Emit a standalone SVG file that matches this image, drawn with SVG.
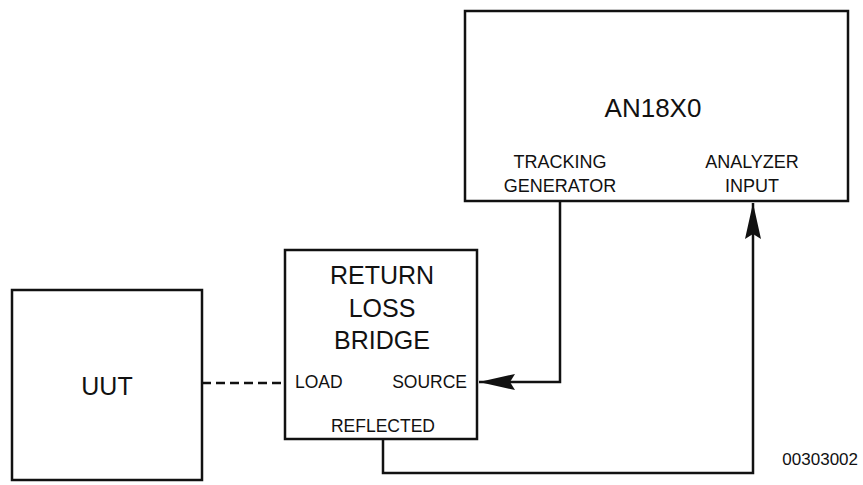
<svg xmlns="http://www.w3.org/2000/svg" width="863" height="485" viewBox="0 0 863 485">
  <style>
    .box { fill: #fff; stroke: #111; stroke-width: 2.5; }
    .wire { fill: none; stroke: #111; stroke-width: 2.5; }
    .dash { fill: none; stroke: #111; stroke-width: 2.5; stroke-dasharray: 9 5; }
    text { font-family: "Liberation Sans", Arial, sans-serif; fill: #111; }
    .big { font-size: 25px; text-anchor: middle; }
    .mid { font-size: 18px; text-anchor: middle; }
    .port { font-size: 17.5px; }
    .ref { font-size: 17px; text-anchor: end; }
  </style>
  <defs>
    <marker id="arrow" viewBox="0 0 36 18" refX="36" refY="9" markerWidth="36" markerHeight="18" markerUnits="userSpaceOnUse" orient="auto">
      <path d="M0,1 L36,9 L0,17 L5,9 Z" fill="#111"/>
    </marker>
  </defs>
  <rect width="863" height="485" fill="#fff"/>

  <g id="connectors">
    <path class="dash" d="M202,383 H285"/>
    <path class="wire" d="M560,201 V382 H479" marker-end="url(#arrow)"/>
    <path class="wire" d="M383,439 V473 H753 V203" marker-end="url(#arrow)"/>
  </g>

  <g id="an18x0">
    <rect class="box" x="465" y="11" width="383" height="190"/>
    <text class="big" x="653" y="117" style="font-size:26px">AN18X0</text>
    <text class="mid" x="560" y="168">TRACKING</text>
    <text class="mid" x="560" y="192">GENERATOR</text>
    <text class="mid" x="752" y="168">ANALYZER</text>
    <text class="mid" x="752" y="192">INPUT</text>
  </g>

  <g id="bridge">
    <rect class="box" x="285" y="250" width="192" height="189"/>
    <text class="big" x="382" y="284">RETURN</text>
    <text class="big" x="382" y="317">LOSS</text>
    <text class="big" x="382" y="349">BRIDGE</text>
    <text class="port" x="295" y="388">LOAD</text>
    <text class="port" x="467" y="388" text-anchor="end">SOURCE</text>
    <text class="port" x="383" y="432" text-anchor="middle">REFLECTED</text>
  </g>

  <g id="uut">
    <rect class="box" x="12" y="290" width="190" height="190"/>
    <text class="big" x="107" y="395">UUT</text>
  </g>

  <text class="ref" x="858" y="465">00303002</text>
</svg>
